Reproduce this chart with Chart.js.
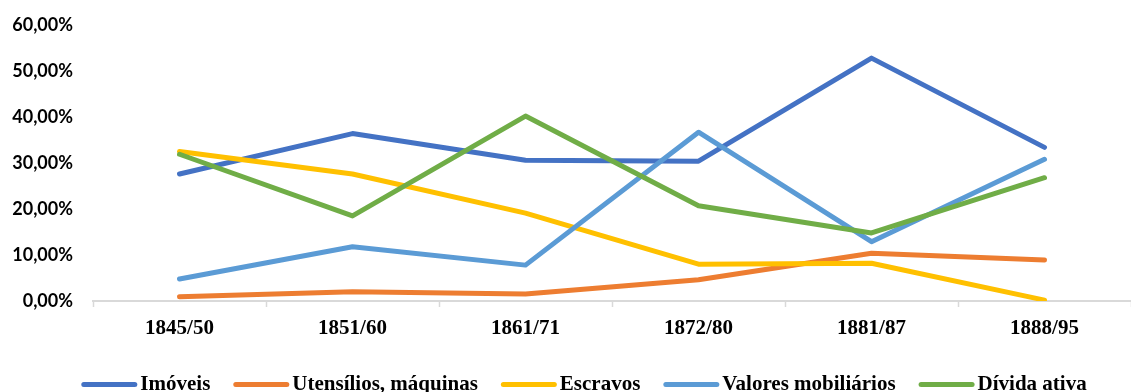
<!DOCTYPE html>
<html>
<head>
<meta charset="utf-8">
<script src="https://cdn.jsdelivr.net/npm/chart.js@4/dist/chart.umd.min.js"></script>
<style>
  html, body { margin: 0; padding: 0; background: #ffffff; }
  #wrap { width: 1131px; height: 392px; }
</style>
</head>
<body>
<div id="wrap"><canvas id="chart" width="1131" height="392"></canvas></div>
<script>
// Periods
const categories = ['1845/50', '1851/60', '1861/71', '1872/80', '1881/87', '1888/95'];

// Share of each asset class (%)
const imoveis    = [27.6, 36.4, 30.6, 30.4, 52.8, 33.4];
const utensilios = [0.9, 2.0, 1.5, 4.6, 10.4, 8.9];
const escravos   = [32.5, 27.6, 19.1, 8.0, 8.2, 0.2];
const valores    = [4.8, 11.8, 7.8, 36.7, 12.9, 30.8];
const divida     = [31.9, 18.5, 40.2, 20.7, 14.8, 26.8];

const seriesNames = ['Imóveis', 'Utensílios, máquinas', 'Escravos', 'Valores mobiliários', 'Dívida ativa'];
const seriesValues = [imoveis, utensilios, escravos, valores, divida];
const seriesColors = ['#4472C4', '#ED7D31', '#FFC000', '#5B9BD5', '#70AD47'];

// Y axis range (%)
const yMin = 0, yMax = 60, yStep = 10;

const fmtPct = v => v.toFixed(2).replace('.', ',') + '%';

// Legend drawn under the axis: short rounded line + bold serif label
const lineLegend = {
  id: 'lineLegend',
  afterDraw(chart) {
    const ctx = chart.ctx;
    ctx.save();
    ctx.font = 'bold 21px "Liberation Serif"';
    const lineLen = 56, gap = 3, spacing = 23, lw = 5;
    const items = chart.data.datasets.map(ds => ({
      label: ds.label, color: ds.borderColor, w: ctx.measureText(ds.label).width
    }));
    let total = 0;
    items.forEach((it, i) => { total += lineLen + gap + it.w + (i < items.length - 1 ? spacing : 0); });
    let x = 584 - total / 2;
    const lineY = 384.5, textY = 390;
    items.forEach(it => {
      ctx.beginPath();
      ctx.lineWidth = lw;
      ctx.lineCap = 'round';
      ctx.strokeStyle = it.color;
      ctx.moveTo(x + lw / 2, lineY);
      ctx.lineTo(x + lineLen - lw / 2, lineY);
      ctx.stroke();
      ctx.fillStyle = '#000000';
      ctx.textAlign = 'left';
      ctx.textBaseline = 'alphabetic';
      ctx.fillText(it.label, x + lineLen + gap, textY);
      x += lineLen + gap + it.w + spacing;
    });
    ctx.restore();
  }
};

const datasets = seriesNames.map((name, i) => ({
  label: name,
  data: seriesValues[i],
  borderColor: seriesColors[i],
  backgroundColor: seriesColors[i],
  borderWidth: 5,
  borderCapStyle: 'round',
  borderJoinStyle: 'round',
  pointRadius: 0,
  pointHoverRadius: 0,
  tension: 0,
  fill: false,
  order: seriesNames.length - i
}));

new Chart(document.getElementById('chart'), {
  type: 'line',
  data: { labels: categories, datasets },
  plugins: [lineLegend],
  options: {
    responsive: false,
    devicePixelRatio: 1,
    animation: false,
    layout: { padding: { top: 25, left: 0, right: -2, bottom: 0 } },
    plugins: {
      legend: { display: false },
      tooltip: { enabled: false }
    },
    scales: {
      x: {
        type: 'category',
        offset: true,
        grid: {
          display: true,
          offset: true,
          drawOnChartArea: false,
          drawTicks: true,
          tickLength: 6,
          tickWidth: 1.5,
          color: '#D9D9D9'
        },
        border: { display: true, color: '#D9D9D9', width: 2 },
        ticks: {
          color: '#000000',
          padding: 9,
          maxRotation: 0,
          autoSkip: false,
          font: { family: '"Liberation Serif"', size: 21, weight: 'bold' }
        },
        afterFit(scale) { scale.height = 91; }
      },
      y: {
        min: yMin,
        max: yMax,
        grid: { display: false, drawTicks: false },
        border: { display: false },
        ticks: {
          stepSize: yStep,
          color: '#000000',
          padding: 20,
          font: { family: 'Lato', size: 18, weight: 'bold' },
          callback: v => fmtPct(v)
        },
        afterFit(scale) {
          scale.width = 93;
          scale.paddingTop = 0;
          scale.paddingBottom = 0;
        }
      }
    }
  }
});
</script>
</body>
</html>
